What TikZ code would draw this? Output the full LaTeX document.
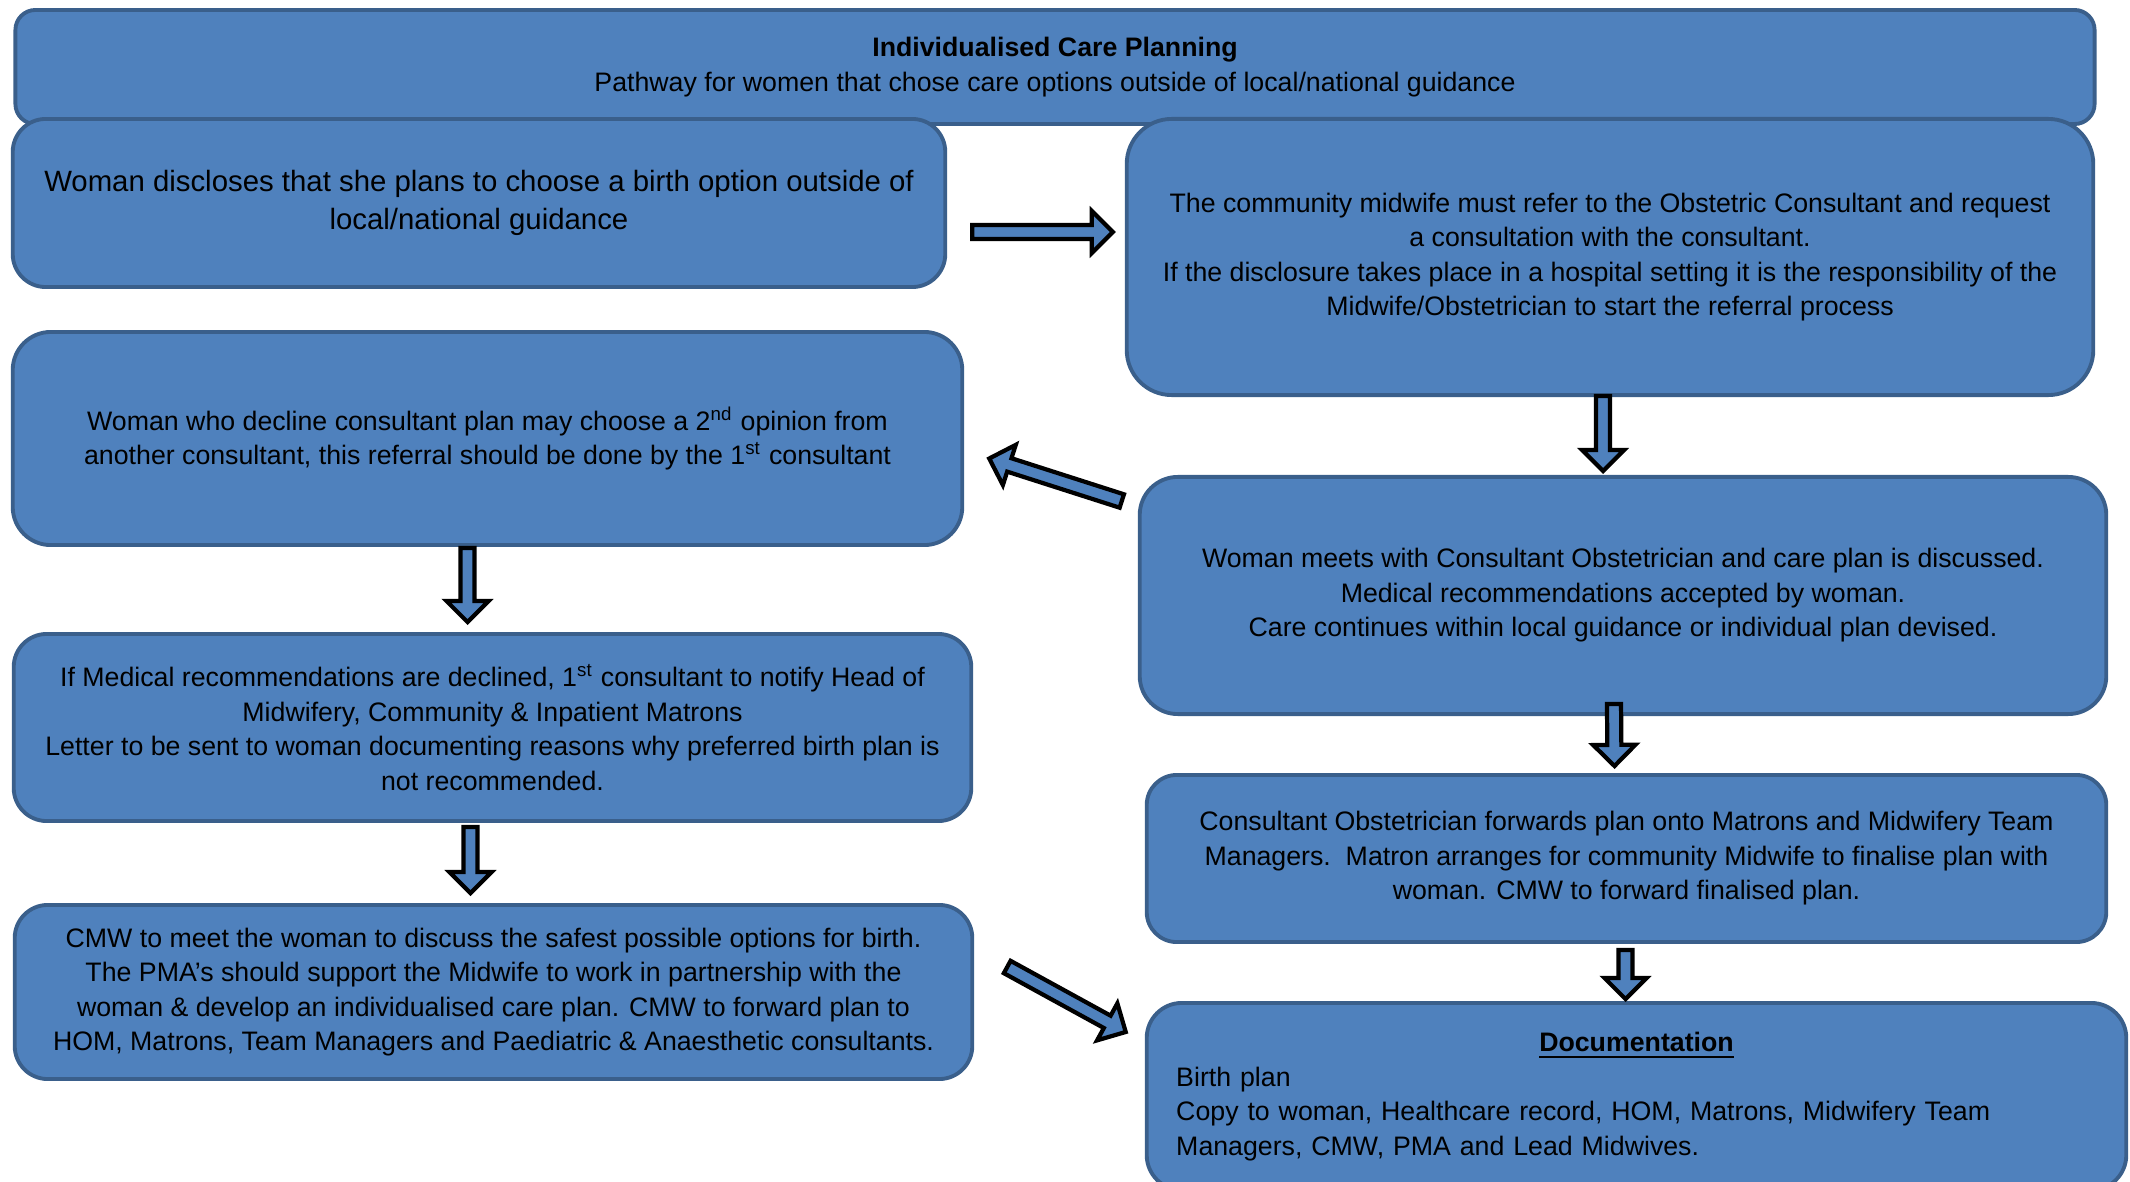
\documentclass[tikz,border=0pt]{standalone}
\usepackage{fontspec}
\setmainfont{Liberation Sans}
\usepackage{tikz}
\usetikzlibrary{calc}
\definecolor{boxblue}{HTML}{4F81BD}
\definecolor{boxedge}{HTML}{3A5F8B}

\tikzset{
  carebox/.style={draw=boxedge, line width=1.1pt, fill=boxblue,
    rounded corners=0.33cm, align=center, inner sep=0pt,
    font=\fontsize{7.6}{9.8}\selectfont},
  % outlined block arrow between two points
  blockarrow/.style={draw=black, line width=1.2pt, fill=boxblue, line join=miter,
    to path={let \p1=(\tikztostart), \p2=(\tikztotarget),
      \n1={atan2(\y2-\y1,\x2-\x1)}, \n2={veclen(\x2-\x1,\y2-\y1)} in
      ([shift={(\p1)},rotate=\n1]0pt,-2pt)
      -- ([shift={(\p1)},rotate=\n1]{\n2-6pt},-2pt)
      -- ([shift={(\p1)},rotate=\n1]{\n2-6pt},-6pt)
      -- ([shift={(\p1)},rotate=\n1]{\n2*1pt},0pt)
      -- ([shift={(\p1)},rotate=\n1]{\n2-6pt},6pt)
      -- ([shift={(\p1)},rotate=\n1]{\n2-6pt},2pt)
      -- ([shift={(\p1)},rotate=\n1]0pt,2pt) -- cycle}}
}

\begin{document}
\begin{tikzpicture}[x=0.01cm, y=-0.01cm]
  \useasboundingbox (0,0) rectangle (2130,1182);

  % heading
  \node[carebox, rounded corners=0.2cm, minimum width=20.78cm, minimum height=1.14cm]
    (title) at (1055,67)
    {\textbf{Individualised Care Planning}\\
     Pathway for women that chose care options outside of local/national guidance};

  % left column
  \node[carebox, font=\fontsize{8.35}{10.8}\selectfont,
    minimum width=9.32cm, minimum height=1.68cm] (disclose) at (479,203)
    {Woman discloses that she plans to choose a birth option outside of\\
     local/national guidance};
  \node[carebox, rounded corners=0.38cm, minimum width=9.49cm, minimum height=2.13cm]
    (second) at (487.5,438.5)
    {Woman who decline consultant plan may choose a 2\textsuperscript{nd} opinion from\\
     another consultant, this referral should be done by the 1\textsuperscript{st} consultant};
  \node[carebox, minimum width=9.57cm, minimum height=1.87cm] (declined) at (492.5,727.5)
    {If Medical recommendations are declined, 1\textsuperscript{st} consultant to notify Head of\\
     Midwifery, Community \& Inpatient Matrons\\
     Letter to be sent to woman documenting reasons why preferred birth plan is\\
     not recommended.};
  \node[carebox, minimum width=9.57cm, minimum height=1.74cm] (meetcmw) at (493.5,992)
    {CMW to meet the woman to discuss the safest possible options for birth.\\
     The PMA’s should support the Midwife to work in partnership with the\\
     woman \& develop an individualised care plan. CMW to forward plan to\\
     HOM, Matrons, Team Managers and Paediatric \& Anaesthetic consultants.};

  % right column
  \node[carebox, rounded corners=0.45cm, minimum width=9.66cm, minimum height=2.76cm]
    (refer) at (1610,257)
    {The community midwife must refer to the Obstetric Consultant and request\\
     a consultation with the consultant.\\
     If the disclosure takes place in a hospital setting it is the responsibility of the\\
     Midwife/Obstetrician to start the referral process};
  \node[carebox, rounded corners=0.38cm, minimum width=9.66cm, minimum height=2.37cm]
    (meets) at (1623,595.5)
    {Woman meets with Consultant Obstetrician and care plan is discussed.\\
     Medical recommendations accepted by woman.\\
     Care continues within local guidance or individual plan devised.};
  \node[carebox, rounded corners=0.3cm, minimum width=9.59cm, minimum height=1.67cm]
    (forwards) at (1626.5,858.5)
    {Consultant Obstetrician forwards plan onto Matrons and Midwifery Team\\
     Managers.\ \ Matron arranges for community Midwife to finalise plan with\\
     woman. CMW to forward finalised plan.};
  \node[carebox, rounded corners=0.35cm, align=left, text width=9.2cm,
    minimum width=9.79cm, minimum height=1.87cm] (docs) at (1636.5,1096.5)
    {\centerline{\textbf{\underline{Documentation}}}
     Birth plan\\
     Copy to woman, Healthcare record, HOM, Matrons, Midwifery Team\\
     Managers, CMW, PMA and Lead Midwives.};

  % arrow ends
  \coordinate (a1) at ($(disclose.east)+(25,29)$);
  \coordinate (b1) at ($(refer.west)+(-12,-25)$);
  \coordinate (a2) at ($(refer.south)+(-7,-1)$);
  \coordinate (b2) at ($(meets.north)+(-20,-4)$);
  \coordinate (a3) at ($(meets.north west)+(-16,26)$);
  \coordinate (b3) at ($(second.east)+(25,20)$);
  \coordinate (a4) at ($(second.south)+(-20,1)$);
  \coordinate (b4) at ($(declined.north)+(-25,-10)$);
  \coordinate (a5) at ($(meets.south)+(-9,-12)$);
  \coordinate (b5) at ($(forwards.north)+(-12,-7)$);
  \coordinate (a6) at ($(declined.south)+(-22,4)$);
  \coordinate (b6) at ($(meetcmw.north)+(-23,-10)$);
  \coordinate (a7) at ($(forwards.south)+(-1,6)$);
  \coordinate (b7) at ($(docs.north)+(-11,-2)$);
  \coordinate (a8) at ($(meetcmw.east)+(33,-25)$);
  \coordinate (b8) at ($(docs.north west)+(-19,31)$);

  \draw[blockarrow] (a1) to (b1);
  \draw[blockarrow] (a2) to (b2);
  \draw[blockarrow] (a3) to (b3);
  \draw[blockarrow] (a4) to (b4);
  \draw[blockarrow] (a5) to (b5);
  \draw[blockarrow] (a6) to (b6);
  \draw[blockarrow] (a7) to (b7);
  \draw[blockarrow] (a8) to (b8);
\end{tikzpicture}
\end{document}
